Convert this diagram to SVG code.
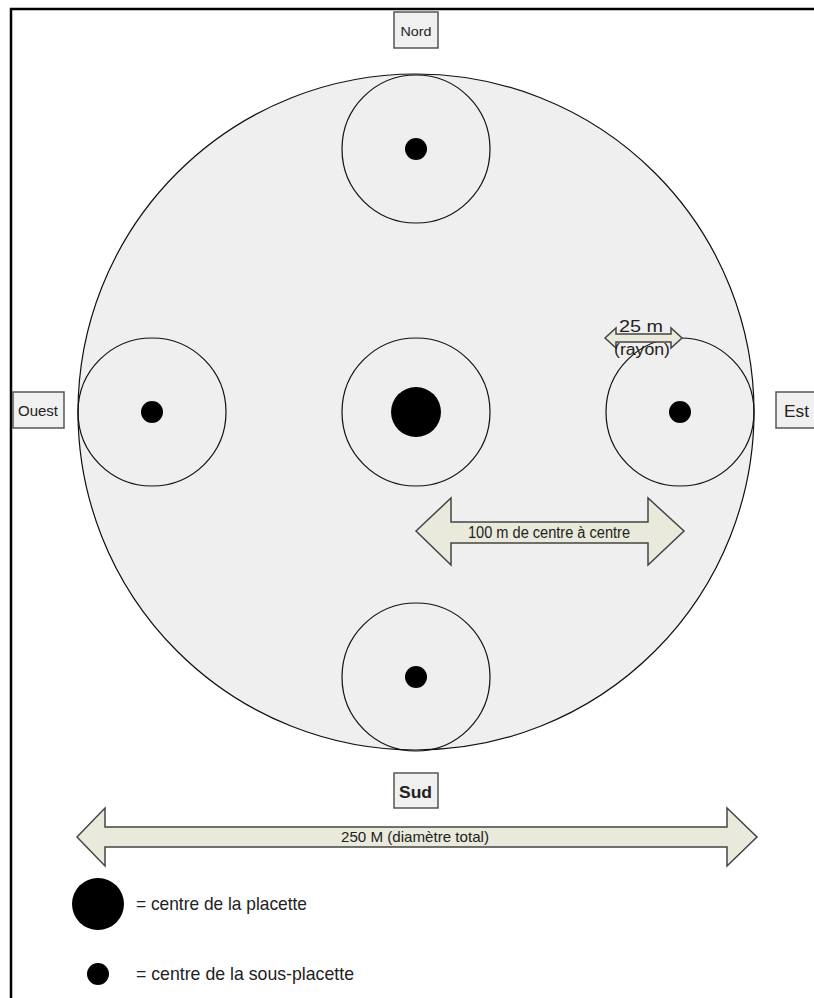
<svg xmlns="http://www.w3.org/2000/svg" width="814" height="998" viewBox="0 0 814 998">
<style>
text{font-family:"Liberation Sans",Arial,sans-serif;fill:#222}
.ring{fill:none;stroke:#111;stroke-width:1.2}
.dot{fill:#000}
.box{fill:#f0f0f0;stroke:#555;stroke-width:1.5}
.arr{fill:#e9eadb;stroke:#444;stroke-width:1.5;stroke-linejoin:miter}
</style>
<rect width="814" height="998" fill="#fff"/>
<path d="M11,998 V9 H814" fill="none" stroke="#000" stroke-width="2.5"/>
<g id="plot">
<circle cx="416" cy="412" r="338" fill="#efefef" stroke="#111" stroke-width="1.2"/>
</g>
<g id="sub-nord"><circle class="ring" cx="416" cy="149" r="74"/><circle class="dot" cx="416" cy="149" r="11"/></g>
<g id="sub-ouest"><circle class="ring" cx="152" cy="412" r="74"/><circle class="dot" cx="152" cy="412" r="11"/></g>
<g id="sub-centre"><circle class="ring" cx="416" cy="412" r="74"/><circle class="dot" cx="416" cy="412" r="25"/></g>
<g id="sub-est"><circle class="ring" cx="680" cy="412" r="74"/><circle class="dot" cx="680" cy="412" r="11"/></g>
<g id="sub-sud"><circle class="ring" cx="416" cy="677" r="74"/><circle class="dot" cx="416" cy="677" r="11"/></g>
<g id="nord"><rect class="box" x="394" y="12" width="44" height="36"/><text x="416" y="36" font-size="13" text-anchor="middle" textLength="31" lengthAdjust="spacingAndGlyphs">Nord</text></g>
<g id="ouest"><rect class="box" x="13" y="392" width="51" height="36"/><text x="18" y="416" font-size="14" textLength="40" lengthAdjust="spacingAndGlyphs">Ouest</text></g>
<g id="est"><rect class="box" x="776" y="392" width="40" height="36"/><text x="784" y="417" font-size="16" textLength="25" lengthAdjust="spacingAndGlyphs">Est</text></g>
<g id="sud"><rect class="box" x="394" y="773" width="44" height="35"/><text x="399" y="798" font-size="17" font-weight="bold" textLength="33" lengthAdjust="spacingAndGlyphs">Sud</text></g>
<g id="connectors">
<path class="arr" d="M605,338 L616,328 V334 H671 V328 L682,338 L671,348 V342 H616 V348 Z"/>
<path class="arr" d="M416,531 L451,498 V522 H648 V498 L684,531 L648,565 V543 H451 V565 Z"/>
<path class="arr" d="M77,837 L105,808 V827 H727 V808 L757,837 L727,866 V847 H105 V866 Z"/>
</g>
<g id="labels">
<text x="619" y="332" font-size="16" textLength="44" lengthAdjust="spacingAndGlyphs">25 m</text>
<text x="614" y="355" font-size="16" textLength="56" lengthAdjust="spacingAndGlyphs">(rayon)</text>
<text x="468" y="538" font-size="16" textLength="162" lengthAdjust="spacingAndGlyphs">100 m de centre à centre</text>
<text x="341" y="842" font-size="15" textLength="148" lengthAdjust="spacingAndGlyphs">250 M (diamètre total)</text>
</g>
<g id="legend-placette"><circle class="dot" cx="98" cy="904" r="26"/><text x="136" y="910" font-size="19" textLength="171" lengthAdjust="spacingAndGlyphs">= centre de la placette</text></g>
<g id="legend-sous-placette"><circle class="dot" cx="98" cy="974" r="11"/><text x="136" y="980" font-size="19" textLength="218" lengthAdjust="spacingAndGlyphs">= centre de la sous-placette</text></g>
</svg>
